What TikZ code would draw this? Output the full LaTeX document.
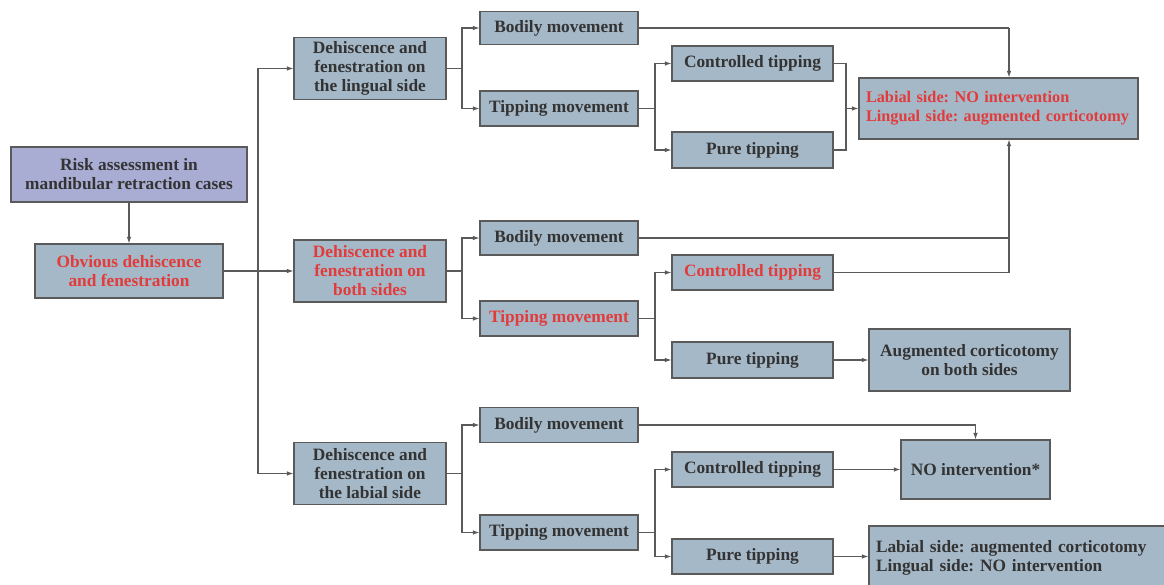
\documentclass[tikz,border=0pt]{standalone}
\usepackage{fontspec}
\setmainfont{Liberation Serif}
\usetikzlibrary{arrows.meta}
\definecolor{boxfill}{HTML}{A5B8C7}
\definecolor{riskfill}{HTML}{A9ADD4}
\definecolor{boxline}{HTML}{5A5A5A}
\definecolor{txtgray}{HTML}{333333}
\definecolor{txtred}{HTML}{E23B3B}
\frenchspacing
\hyphenpenalty=10000
\begin{document}
\begin{tikzpicture}[x=0.75pt,y=-0.75pt,
  box/.style={draw=boxline,line width=0.8pt,fill=boxfill,text=txtgray,inner sep=0pt,align=center,
    font=\bfseries\fontsize{13}{14.25}\selectfont},
  sz/.style 2 args={minimum width=#1*0.75pt,minimum height=#2*0.75pt},
  redtxt/.style={text=txtred},
  leftbox/.style={align=left,inner xsep=5.25pt,text width=#1*0.75pt-10.5pt},
  link/.style={draw=boxline,line width=0.8pt},
  arr/.style={link,-{Latex[length=5pt,width=3.5pt]}}]
\useasboundingbox (0,0) rectangle (1164,585);

\node[box,fill=riskfill,sz={236}{55}] (risk) at (129,174.5) {Risk assessment in\\mandibular retraction cases};
\node[box,redtxt,sz={188}{54}] (obv) at (129,271) {Obvious dehiscence\\and fenestration};

\node[box,sz={152}{62}] (ling) at (370,68.5) {Dehiscence and\\fenestration on\\the lingual side};
\node[box,redtxt,sz={152}{62}] (both) at (370,271) {Dehiscence and\\fenestration on\\both sides};
\node[box,sz={152}{62}] (lab) at (370,473.5) {Dehiscence and\\fenestration on\\the labial side};

\node[box,sz={158}{33}] (lingbod) at (559,28) {Bodily movement};
\node[box,sz={158}{35}] (lingtip) at (559,108.5) {Tipping movement};
\node[box,sz={158}{34}] (bothbod) at (559,238) {Bodily movement};
\node[box,redtxt,sz={158}{35}] (bothtip) at (559,318.5) {Tipping movement};
\node[box,sz={158}{35}] (labbod) at (559,425) {Bodily movement};
\node[box,sz={158}{35}] (labtip) at (559,532.5) {Tipping movement};

\node[box,sz={161}{35}] (lingctl) at (752.5,63.5) {Controlled tipping};
\node[box,sz={161}{36}] (lingpure) at (752.5,150) {Pure tipping};
\node[box,redtxt,sz={161}{35}] (bothctl) at (752.5,272.5) {Controlled tipping};
\node[box,sz={161}{36}] (bothpure) at (752.5,360) {Pure tipping};
\node[box,sz={161}{35}] (labctl) at (752.5,469.5) {Controlled tipping};
\node[box,sz={161}{35}] (labpure) at (752.5,556.5) {Pure tipping};

\node[box,redtxt,leftbox=279,sz={279}{61},font=\bfseries\fontsize{12.2}{14.25}\selectfont] (res1) at (998.5,108.5) {Labial side: NO intervention\\Lingual side: augmented corticotomy};
\node[box,sz={201}{62}] (aug) at (969.5,360) {Augmented corticotomy\\on both sides};
\node[box,sz={149}{59}] (noint) at (975.5,469.5) {NO intervention*};
\node[box,leftbox=311,sz={311}{63}] (res3) at (1024.5,557.5) {Labial side: augmented corticotomy\\Lingual side: NO intervention};

\coordinate (trunk) at (258,271);
\coordinate (jling) at (462,68.5);
\coordinate (jboth) at (462,271);
\coordinate (jlab) at (462,473.5);
\coordinate (jlingtip) at (655,108.5);
\coordinate (jbothtip) at (655,318.5);
\coordinate (jlabtip) at (655,532.5);
\coordinate (jres1) at (846,108.5);
\coordinate (down1) at (1009,28);
\coordinate (up1) at (1009,272.5);

\draw[arr] (risk) -- (obv);
\draw[arr] (obv.east) -- (both.west);
\draw[arr] (trunk) |- (ling.west);
\draw[arr] (trunk) |- (lab.west);

\draw[link] (ling.east) -- (jling);
\draw[arr] (jling) |- (lingbod.west);
\draw[arr] (jling) |- (lingtip.west);
\draw[link] (both.east) -- (jboth);
\draw[arr] (jboth) |- (bothbod.west);
\draw[arr] (jboth) |- (bothtip.west);
\draw[link] (lab.east) -- (jlab);
\draw[arr] (jlab) |- (labbod.west);
\draw[arr] (jlab) |- (labtip.west);

\draw[link] (lingtip.east) -- (jlingtip);
\draw[arr] (jlingtip) |- (lingctl.west);
\draw[arr] (jlingtip) |- (lingpure.west);
\draw[link] (bothtip.east) -- (jbothtip);
\draw[arr] (jbothtip) |- (bothctl.west);
\draw[arr] (jbothtip) |- (bothpure.west);
\draw[link] (labtip.east) -- (jlabtip);
\draw[arr] (jlabtip) |- (labctl.west);
\draw[arr] (jlabtip) |- (labpure.west);

\draw[link] (lingctl.east) -| (jres1) |- (lingpure.east);
\draw[arr] (jres1) -- (res1.west);
\draw[link] (lingbod.east) -- (down1);
\draw[arr] (down1) -- (down1 |- res1.north);
\draw[link] (bothbod.east) -| (up1);
\draw[link] (bothctl.east) -- (up1);
\draw[arr] (up1) -- (up1 |- res1.south);
\draw[arr] (bothpure) -- (aug);

\draw[arr] (labbod.east) -| (noint.north);
\draw[arr] (labctl) -- (noint);
\draw[arr] (labpure.east) -- (labpure.east -| res3.west);
\end{tikzpicture}
\end{document}
